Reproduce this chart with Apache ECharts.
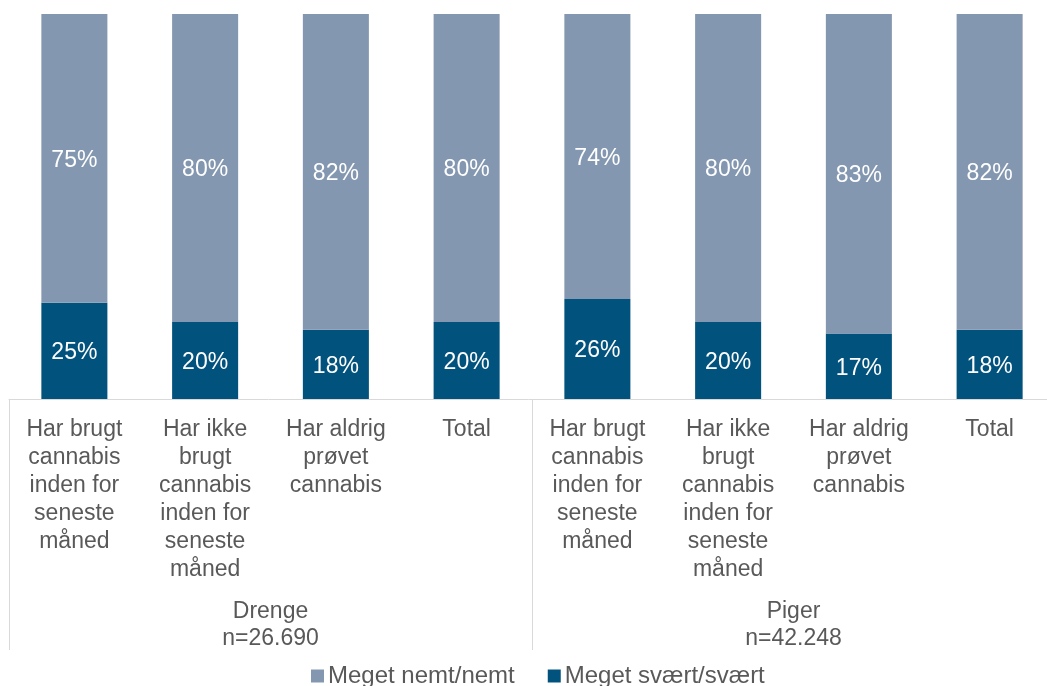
<!DOCTYPE html>
<html>
<head>
<meta charset="utf-8">
<script src="https://cdn.jsdelivr.net/npm/echarts@6/dist/echarts.min.js"></script>
<style>
html,body{margin:0;padding:0;background:#fff;}
#chart{width:1047px;height:686px;}
</style>
</head>
<body>
<div id="chart"></div>
<script>
const categories = [
  'Har brugt\ncannabis\ninden for\nseneste\nmåned',
  'Har ikke\nbrugt\ncannabis\ninden for\nseneste\nmåned',
  'Har aldrig\nprøvet\ncannabis',
  'Total',
  'Har brugt\ncannabis\ninden for\nseneste\nmåned',
  'Har ikke\nbrugt\ncannabis\ninden for\nseneste\nmåned',
  'Har aldrig\nprøvet\ncannabis',
  'Total'
];
const groups = ['Drenge\nn=26.690', 'Piger\nn=42.248'];
const seriesNames = ['Meget nemt/nemt', 'Meget svært/svært'];
const nemt = [75, 80, 82, 80, 74, 80, 83, 82];
const svaert = [25, 20, 18, 20, 26, 20, 17, 18];

const font = 'Liberation Sans, Arial, sans-serif';
const textColor = '#595959';
const lineColor = '#d9d9d9';

const chart = echarts.init(document.getElementById('chart'), null, {renderer: 'canvas'});
chart.setOption({
  animation: false,
  textStyle: {fontFamily: font},
  grid: {left: 9, top: 14, width: 1046, height: 385, containLabel: false, outerBoundsMode: 'none'},
  legend: {
    data: seriesNames,
    left: 311,
    top: 664,
    padding: 0,
    itemWidth: 13,
    itemHeight: 13,
    itemGap: 33,
    textStyle: {fontFamily: font, fontSize: 24, color: textColor, padding: [0, 0, 0, -1]},
    icon: 'rect'
  },
  xAxis: [
    {
      type: 'category',
      data: categories,
      position: 'bottom',
      axisLine: {show: true, lineStyle: {color: lineColor, width: 1}},
      axisTick: {show: false},
      axisLabel: {
        interval: 0,
        margin: 17,
        fontFamily: font,
        fontSize: 23,
        lineHeight: 28,
        color: textColor,
        align: 'center'
      }
    },
    {
      type: 'category',
      data: groups,
      position: 'bottom',
      axisLine: {show: false},
      axisTick: {show: true, length: 251, lineStyle: {color: lineColor, width: 1}},
      axisLabel: {
        interval: 0,
        margin: 199,
        fontFamily: font,
        fontSize: 23,
        lineHeight: 27,
        color: textColor
      }
    }
  ],
  yAxis: {type: 'value', min: 0, max: 100, show: false},
  series: [
    {
      name: seriesNames[1],
      type: 'bar',
      stack: 'total',
      data: svaert,
      barWidth: '50.5%',
      itemStyle: {color: '#02527e'},
      label: {show: true, position: 'inside', offset: [0, 2], formatter: '{c}%', color: '#fff', fontFamily: font, fontSize: 23}
    },
    {
      name: seriesNames[0],
      type: 'bar',
      stack: 'total',
      data: nemt,
      barWidth: '50.5%',
      itemStyle: {color: '#8497b0'},
      label: {show: true, position: 'inside', offset: [0, 2], formatter: '{c}%', color: '#fff', fontFamily: font, fontSize: 23}
    }
  ]
});
</script>
</body>
</html>
